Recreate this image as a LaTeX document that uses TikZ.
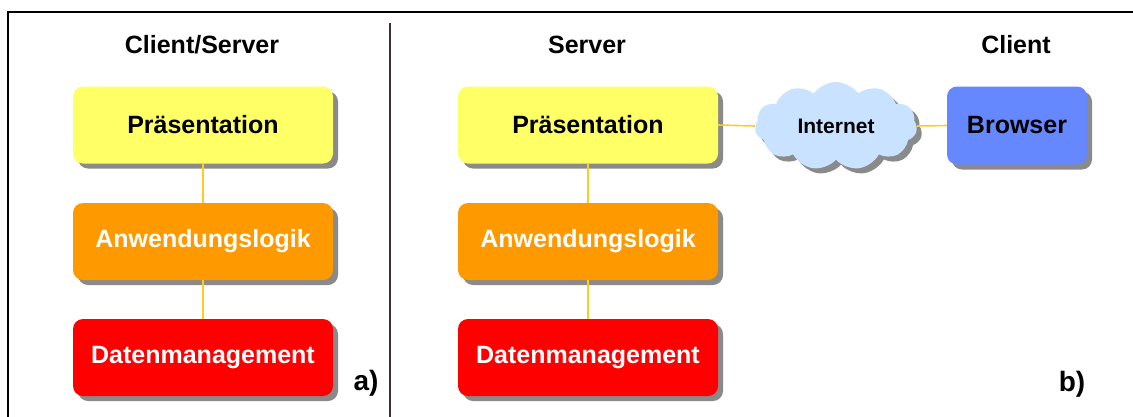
\documentclass[tikz,border=0pt]{standalone}
\usepackage{fontspec}
\setmainfont{Liberation Sans}
\usetikzlibrary{shapes.symbols,shadows}
\definecolor{presYellow}{HTML}{FFFF66}
\definecolor{logicOrange}{HTML}{FF9900}
\definecolor{dataRed}{HTML}{FF0000}
\definecolor{browserBlue}{HTML}{6688FF}
\definecolor{cloudBlue}{HTML}{C8E2FF}
\definecolor{linkYellow}{HTML}{FFCC22}
\definecolor{shadowGray}{HTML}{8A8A8A}
\definecolor{dividerGray}{HTML}{3A3030}
\tikzset{
  layer/.style={rounded corners=10pt, minimum width=260pt, minimum height=77pt,
    inner sep=0pt, font=\fontsize{25}{30}\selectfont\bfseries,
    drop shadow={shadow xshift=5pt, shadow yshift=-5pt, fill=shadowGray, opacity=1}},
  title/.style={font=\fontsize{25}{30}\selectfont\bfseries, inner sep=0pt},
  link/.style={draw=linkYellow, line width=1.6pt},
  tag/.style={font=\fontsize{28}{32}\selectfont\bfseries, inner sep=0pt}
}
\begin{document}
\begin{tikzpicture}[x=1pt, y=-1pt]
  \clip (0,0) rectangle (1133,416);
  % outer frame (right and bottom edges lie outside the visible area)
  \draw[line width=2pt] (8,12) rectangle (1145,430);
  % divider between the two architectures
  \draw[dividerGray, line width=1.6pt] (390,23) -- (390,420);

  % a) classic client/server
  \node[title] (tl) at (202,45) {Client/Server};
  \node[layer, fill=presYellow] (lp) at (203,125) {Präsentation};
  \node[layer, fill=logicOrange, text=white] (la) at (203,241.5) {Anwendungslogik};
  \node[layer, fill=dataRed, text=white] (ld) at (203,357.5) {Datenmanagement};
  \node[tag] (ta) at (366,383) {a)};

  % b) web architecture
  \node[title] (ts) at (587,45) {Server};
  \node[title] (tc) at (1016,45) {Client};
  \node[layer, fill=presYellow] (rp) at (588,125) {Präsentation};
  \node[layer, fill=logicOrange, text=white] (ra) at (588,241.5) {Anwendungslogik};
  \node[layer, fill=dataRed, text=white] (rd) at (588,357.5) {Datenmanagement};
  \node[cloud, cloud puffs=11, cloud puff arc=110, aspect=1.8, fill=cloudBlue,
        minimum width=162pt, minimum height=88pt, inner sep=0pt,
        font=\fontsize{21}{26}\selectfont\bfseries,
        drop shadow={shadow xshift=5pt, shadow yshift=-5pt, fill=shadowGray, opacity=1}]
        (net) at (836,126) {Internet};
  \node[layer, fill=browserBlue, minimum width=140pt, minimum height=78pt] (br) at (1017,125.5) {Browser};
  \node[tag] (tb) at (1072,384) {b)};

  % connections
  \draw[link] (lp.south) -- (la.north);
  \draw[link] (la.south) -- (ld.north);
  \draw[link] (rp.south) -- (ra.north);
  \draw[link] (ra.south) -- (rd.north);
  \draw[link] (rp.east) -- (net.west);
  \draw[link] (net.east) -- (br.west);
\end{tikzpicture}
\end{document}
